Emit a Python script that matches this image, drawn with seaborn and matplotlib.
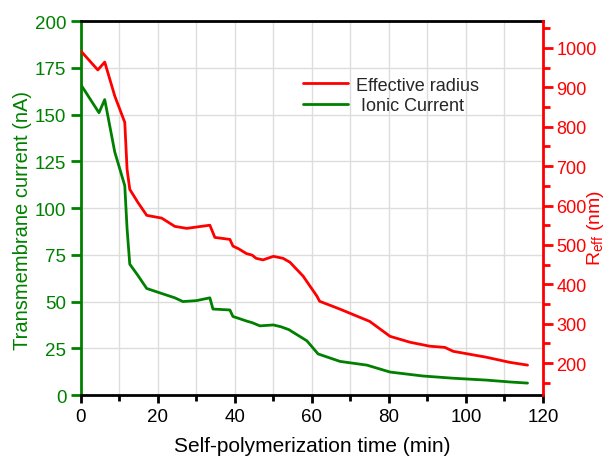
import numpy as np
import pandas as pd
import matplotlib
matplotlib.use("Agg")
import matplotlib.pyplot as plt
import seaborn as sns

# Ionic current (nA) vs time (min)
t_current = [0, 4.7, 6.2, 8.8, 11.4, 12.0, 12.7, 14.8, 17.1, 20.0, 24.4, 26.5, 30.0, 33.5, 34.3,
             38.7, 39.5, 41.0, 43.0, 44.5, 46.5, 50.0, 52.0, 54.0, 58.7, 61.6, 67.3, 74.3, 80.3,
             88.8, 96.7, 105.3, 111.4, 116.0]
current = [166, 151, 158, 130, 112, 89, 70, 64, 57, 55, 52, 50, 50.5, 52, 46,
           45.5, 42, 41, 39.6, 38.7, 37, 37.5, 36.5, 35, 29, 22, 18, 16, 12.3,
           10.2, 9, 8, 7, 6.4]

# Effective radius (nm) vs time (min)
t_radius = [0, 4.4, 6.2, 8.8, 11.4, 12.0, 12.7, 14.8, 17.1, 21.0, 24.4, 27.5, 33.5, 34.8, 38.7,
            39.5, 41.0, 43.0, 44.5, 45.5, 47.3, 50.0, 52.5, 54.3, 57.7, 61.3, 62.0, 67.3, 72.5,
            75.0, 80.3, 85.5, 90.6, 94.5, 96.7, 105.3, 111.4, 116.0]
radius = [992, 944, 964, 878, 811, 692, 641, 608, 575, 568, 547, 542, 550, 519, 514,
          497, 490, 478, 474, 466, 462, 471, 466, 456, 421, 370, 357, 337, 316,
          306, 268, 253, 243, 240, 230, 215, 202, 195]

x_ticks = [0, 20, 40, 60, 80, 100, 120]
left_ticks = [0, 25, 50, 75, 100, 125, 150, 175, 200]
right_ticks = [200, 300, 400, 500, 600, 700, 800, 900, 1000]

GREEN = "#008000"
RED = "#FF0000"

sns.set_style("white")
plt.rcParams["font.family"] = ["Liberation Sans", "DejaVu Sans"]
plt.rcParams["mathtext.fontset"] = "custom"
plt.rcParams["mathtext.rm"] = "Liberation Sans"
plt.rcParams["mathtext.it"] = "Liberation Sans:italic"

fig = plt.figure(figsize=(6.08, 4.60), dpi=100)
ax = fig.add_axes([0.133, 0.139, 0.760, 0.813])
ax2 = ax.twinx()

df_c = pd.DataFrame({"t": t_current, "I": current})
df_r = pd.DataFrame({"t": t_radius, "R": radius})

sns.lineplot(data=df_c, x="t", y="I", ax=ax, color=GREEN, linewidth=2.0, label=" Ionic Current", legend=False)
sns.lineplot(data=df_r, x="t", y="R", ax=ax2, color=RED, linewidth=2.0, label="Effective radius", legend=False)

ax.set_xlim(0, 120)
ax.set_ylim(0, 200)
ax2.set_ylim(119, 1068)
ax.set_xticks(x_ticks)
ax.set_xticks(np.arange(10, 120, 20), minor=True)
ax.set_yticks(left_ticks)
ax2.set_yticks(right_ticks)
ax2.set_yticks(np.arange(150, 1068, 100), minor=True)

ax.grid(True, which="both", axis="x", color="#dddddd", linewidth=1)
ax.grid(True, which="major", axis="y", color="#dddddd", linewidth=1)
ax.set_axisbelow(True)

for s in ["top", "bottom"]:
    ax.spines[s].set_color("black")
    ax.spines[s].set_linewidth(2)
ax.spines["left"].set_color(GREEN)
ax.spines["left"].set_linewidth(2)
ax2.spines["right"].set_color(RED)
ax2.spines["right"].set_linewidth(2)
ax2.spines["left"].set_visible(False)
ax2.spines["top"].set_visible(False)
ax2.spines["bottom"].set_visible(False)
ax.spines["right"].set_visible(False)

ax.tick_params(axis="x", which="major", direction="out", length=6, width=2, color="black",
               labelsize=13.5, labelcolor="black", bottom=True)
ax.tick_params(axis="x", which="minor", direction="out", length=4, width=2, color="black", bottom=True)
ax.tick_params(axis="y", which="major", direction="out", length=7, width=2, color=GREEN,
               labelsize=13.5, labelcolor=GREEN, left=True)
ax2.tick_params(axis="y", which="major", direction="out", length=7, width=2, color=RED,
                labelsize=13, labelcolor=RED, right=True, pad=2.5)
ax2.tick_params(axis="y", which="minor", direction="out", length=5, width=2, color=RED, right=True)

ax.set_xlabel("Self-polymerization time (min)", fontsize=15, color="black", labelpad=8)
ax.set_ylabel("Transmembrane current (nA)", fontsize=14.5, color=GREEN)
ax.yaxis.set_label_coords(-0.106, 0.47)
ax2.set_ylabel(r"R$_{\mathrm{eff}}$ (nm)", fontsize=14, color=RED)
ax2.yaxis.set_label_coords(1.092, 0.45)

h1, l1 = ax2.get_legend_handles_labels()
h2, l2 = ax.get_legend_handles_labels()
leg = ax2.legend(h1 + h2, l1 + l2, loc="upper left", bbox_to_anchor=(0.445, 0.895),
                 frameon=False, fontsize=13, handlelength=2.5, handletextpad=0.45,
                 labelspacing=0.2)

fig.savefig("out.png", dpi=100)
